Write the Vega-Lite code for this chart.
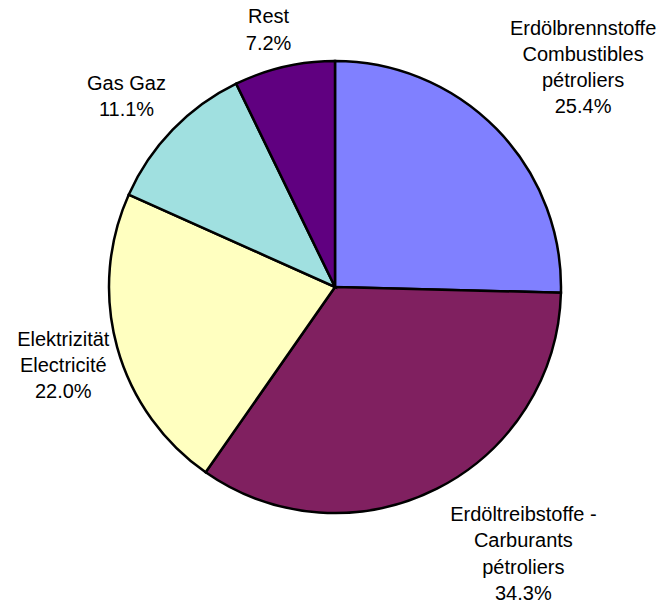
{
  "$schema": "https://vega.github.io/schema/vega-lite/v6.json",
  "width": 452,
  "height": 452,
  "autosize": "none",
  "padding": {"left": 109, "top": 61, "right": 103, "bottom": 95},
  "background": "white",
  "view": {"stroke": null},
  "data": {
    "values": [
      {"cat": "Erdölbrennstoffe", "label": "Erdölbrennstoffe\nCombustibles\npétroliers\n25.4%", "value": 25.4, "order": 1},
      {"cat": "Erdöltreibstoffe", "label": "Erdöltreibstoffe -\nCarburants\npétroliers\n34.3%", "value": 34.3, "order": 2},
      {"cat": "Elektrizität", "label": "Elektrizität\nElectricité\n22.0%", "value": 22.0, "order": 3},
      {"cat": "Gas", "label": "Gas Gaz\n11.1%", "value": 11.1, "order": 4},
      {"cat": "Rest", "label": "Rest\n7.2%", "value": 7.2, "order": 5}
    ]
  },
  "encoding": {
    "theta": {"field": "value", "type": "quantitative", "stack": true},
    "order": {"field": "order", "type": "quantitative"}
  },
  "layer": [
    {
      "mark": {"type": "arc", "stroke": "black", "strokeWidth": 2.5, "outerRadius": 226},
      "encoding": {
        "color": {
          "field": "cat",
          "type": "nominal",
          "scale": {
            "domain": ["Erdölbrennstoffe", "Erdöltreibstoffe", "Elektrizität", "Gas", "Rest"],
            "range": ["#8080FF", "#802060", "#FFFFC0", "#A0E0E0", "#600080"]
          },
          "legend": null
        }
      }
    },
    {
      "mark": {"type": "text", "radius": 320, "dx": 19, "dy": -35, "fontSize": 20, "font": "Liberation Sans", "lineBreak": "\n", "lineHeight": 26, "align": "center", "baseline": "middle", "color": "black"},
      "encoding": {"text": {"condition": {"test": "datum.cat === 'Erdölbrennstoffe'", "field": "label"}, "value": ""}}
    },
    {
      "mark": {"type": "text", "radius": 300, "dx": 53, "dy": -40, "fontSize": 20, "font": "Liberation Sans", "lineBreak": "\n", "lineHeight": 26.5, "align": "center", "baseline": "middle", "color": "black"},
      "encoding": {"text": {"condition": {"test": "datum.cat === 'Erdöltreibstoffe'", "field": "label"}, "value": ""}}
    },
    {
      "mark": {"type": "text", "radius": 283, "dx": 1, "dy": -23, "fontSize": 20, "font": "Liberation Sans", "lineBreak": "\n", "lineHeight": 26, "align": "center", "baseline": "middle", "color": "black"},
      "encoding": {"text": {"condition": {"test": "datum.cat === 'Elektrizität'", "field": "label"}, "value": ""}}
    },
    {
      "mark": {"type": "text", "radius": 282, "dx": -6, "dy": -7, "fontSize": 20, "font": "Liberation Sans", "lineBreak": "\n", "lineHeight": 26, "align": "center", "baseline": "middle", "color": "black"},
      "encoding": {"text": {"condition": {"test": "datum.cat === 'Gas'", "field": "label"}, "value": ""}}
    },
    {
      "mark": {"type": "text", "radius": 265, "dx": -7, "dy": -12, "fontSize": 20, "font": "Liberation Sans", "lineBreak": "\n", "lineHeight": 27, "align": "center", "baseline": "middle", "color": "black"},
      "encoding": {"text": {"condition": {"test": "datum.cat === 'Rest'", "field": "label"}, "value": ""}}
    }
  ]
}
